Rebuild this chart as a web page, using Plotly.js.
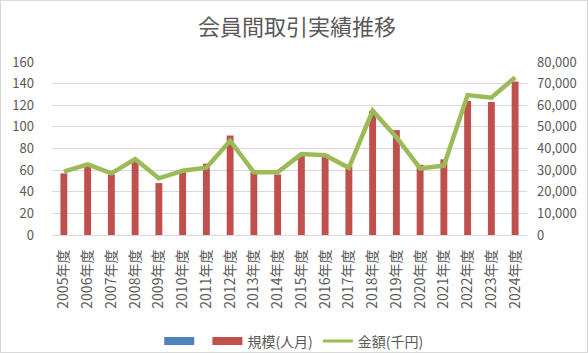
<!DOCTYPE html>
<html><head><meta charset="utf-8">
<script src="https://cdn.plot.ly/plotly-3.0.1.min.js"></script>
<style>html,body{margin:0;padding:0;background:#fff}#c{width:586px;height:351px;border:1px solid #d9d9d9}</style>
</head><body><div id="c"></div>
<script>
const years = ["2005年度","2006年度","2007年度","2008年度","2009年度","2010年度","2011年度","2012年度","2013年度","2014年度","2015年度","2016年度","2017年度","2018年度","2019年度","2020年度","2021年度","2022年度","2023年度","2024年度"];
const scale = [57,66,56,70,48,59,66,92,58,56,74,75,64,115,97,65,70,124,123,142];
const amount = [29300,32700,28500,35100,26200,29700,31100,43600,29000,29000,37400,36900,31100,57500,45200,30800,32100,64700,63500,72900];
const leftTicks = [0,20,40,60,80,100,120,140,160];
const rightTicks = [0,10000,20000,30000,40000,50000,60000,70000,80000];
const rightTickText = ["0","10,000","20,000","30,000","40,000","50,000","60,000","70,000","80,000"];
const seriesNames = [" ", "規模(人月)", "金額(千円)"];
const colors = ['#4F81BD', '#C0504D', '#9BBB59'];

const F = '"Noto Sans CJK JP", "Noto Sans", sans-serif';
const grey = '#595959';
const empty = years.map(()=>null);
const traces = [
  {type:'bar', x:years, y:scale, name:seriesNames[1], marker:{color:colors[1]}, width:0.29, showlegend:false},
  {type:'scatter', mode:'lines', x:years, y:amount, name:seriesNames[2], yaxis:'y2', line:{color:colors[2], width:4.5}, showlegend:false},
  {type:'scatter', mode:'lines', x:years, y:empty, name:seriesNames[0], line:{color:colors[0], width:8}, legendrank:1},
  {type:'scatter', mode:'lines', x:years, y:empty, name:seriesNames[1], line:{color:colors[1], width:8}, legendrank:2},
  {type:'scatter', mode:'lines', x:years, y:empty, name:seriesNames[2], line:{color:colors[2], width:3}, legendrank:3}
];
const layout = {
  width:586, height:351,
  margin:{l:51, r:60, t:61, b:117},
  paper_bgcolor:'#fff', plot_bgcolor:'#fff',
  font:{family:F, size:13, color:grey},
  title:{text:'会員間取引実績推移', font:{family:F, size:22, color:grey}, x:0.505, xanchor:'center', y:0.925, yanchor:'middle'},
  showlegend:true,
  legend:{orientation:'h', x:0.51, xanchor:'center', yref:'container', y:0.03, yanchor:'middle', font:{size:14, color:grey}, itemwidth:30, traceorder:'normal'},
  xaxis:{type:'category', tickangle:-90, showgrid:false, showline:true, linecolor:'#d9d9d9', ticks:'', tickfont:{size:14, color:grey}, ticklabelstandoff:8, automargin:false},
  yaxis:{range:[0,160], tickvals:leftTicks, showgrid:true, gridcolor:'#d9d9d9', zeroline:false, showline:false, ticks:'', tickfont:{size:13, color:grey}, ticklabelstandoff:17, automargin:false},
  yaxis2:{range:[0,80000], overlaying:'y', side:'right', tickvals:rightTicks, ticktext:rightTickText, showgrid:false, zeroline:false, showline:false, ticks:'', tickfont:{size:13, color:grey}, ticklabelstandoff:9, automargin:false}
};
Plotly.newPlot('c', traces, layout, {displayModeBar:false, staticPlot:true});
</script></body></html>
